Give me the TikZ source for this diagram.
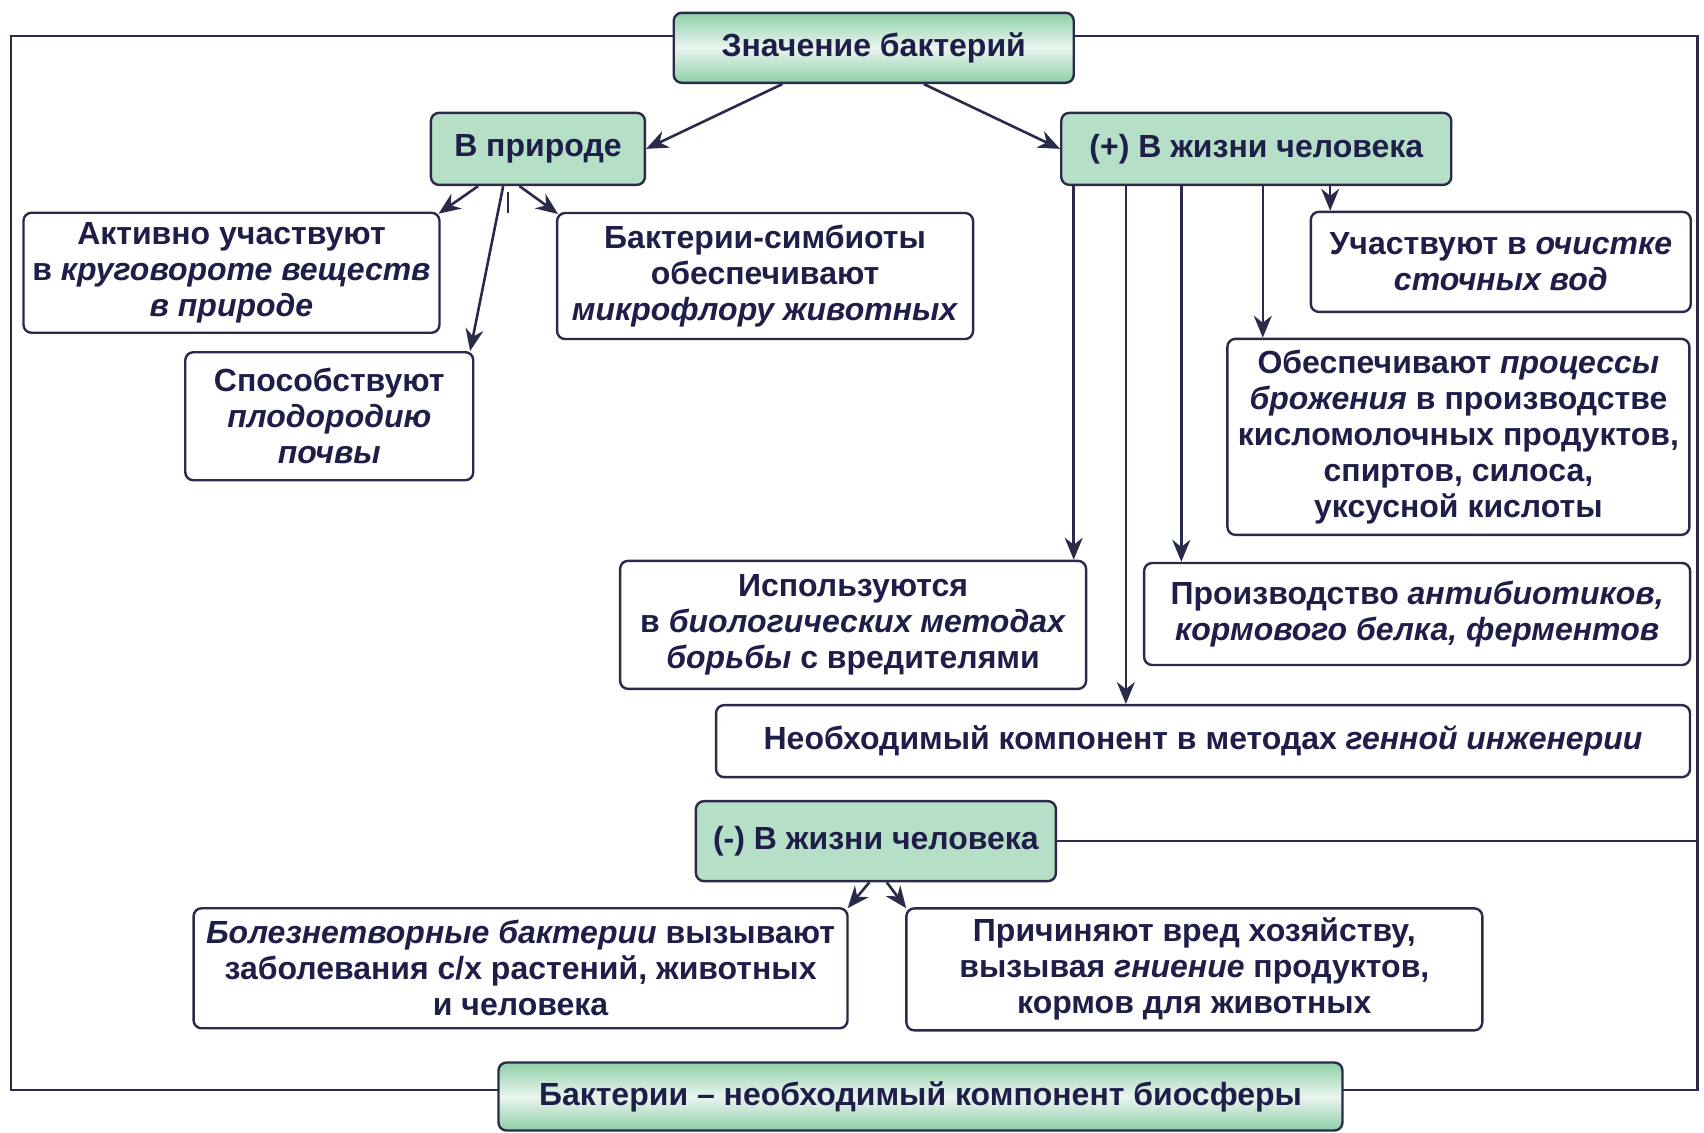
\documentclass[tikz,border=0pt]{standalone}
\usepackage{fontspec}
\setmainfont{Liberation Sans}
\usetikzlibrary{arrows.meta,calc,positioning}
\definecolor{bactInk}{HTML}{1E1E48}
\definecolor{bactLine}{HTML}{2A2A4A}
\definecolor{bactGreen}{HTML}{B6DFC8}
\definecolor{bactDeep}{HTML}{8ECFA8}

\begin{document}
\begin{tikzpicture}[x=0.5434pt,y=-0.5434pt,
  card/.style={draw=bactLine, line width=1.2pt, rounded corners=4pt, fill=white,
    text=bactInk, font=\bfseries\fontsize{16}{18}\selectfont, align=center,
    inner sep=2pt},
  head/.style={card, fill=bactGreen},
  title/.style={card, top color=bactDeep, bottom color=bactDeep,
    middle color=bactGreen!30},
  arr/.style={draw=bactLine, line width=1.3pt, -{Stealth[length=11pt,width=9pt]}},
  frame/.style={draw=bactLine, line width=1.3pt}]
  \useasboundingbox (0,0) rectangle (1568,1042);

  % outer frame
  \coordinate (rimTL) at (10,33);
  \coordinate (rimBR) at (1562,1003);
  \draw[frame] (rimTL) rectangle (rimBR);

  \node[title, minimum width=200pt, minimum height=35pt] (top) at (804,44)
    {Значение бактерий};

  \node[head, minimum width=107pt, minimum height=36pt] (nat) at (495,137)
    {В природе};
  \node[head, minimum width=195pt, minimum height=36pt] (plus) at (1156,137)
    {(+) В жизни человека};

  \node[card, minimum width=208pt, minimum height=60pt] (cycle) at (213,251)
    {Активно участвуют\\в \textit{круговороте веществ}\\\textit{в природе}};
  \node[card, minimum width=144pt, minimum height=64pt] (soil) at (303,383)
    {Способствуют\\\textit{плодородию}\\\textit{почвы}};
  \node[card, minimum width=208pt, minimum height=63pt] (symb) at (704,254)
    {Бактерии-симбиоты\\обеспечивают\\\textit{микрофлору животных}};

  \node[card, minimum width=190pt, minimum height=50pt] (water) at (1381,241)
    {Участвуют в \textit{очистке}\\\textit{сточных вод}};
  \node[card, minimum width=231pt, minimum height=98pt] (ferm) at (1342,402)
    {Обеспечивают \textit{процессы}\\\textit{брожения} в производстве\\кисломолочных продуктов,\\спиртов, силоса,\\уксусной кислоты};
  \node[card, minimum width=233pt, minimum height=64pt] (pest) at (785,575)
    {Используются\\в \textit{биологических методах}\\\textit{борьбы} с вредителями};
  \node[card, minimum width=273pt, minimum height=51pt] (prod) at (1304,565)
    {Производство \textit{антибиотиков,}\\\textit{кормового белка, ферментов}};
  \node[card, minimum width=487pt, minimum height=36pt] (gene) at (1107,682)
    {Необходимый компонент в методах \textit{генной инженерии}};

  \node[head, minimum width=180pt, minimum height=40pt] (minus) at (806,774)
    {(-) В жизни человека};
  \node[card, minimum width=327pt, minimum height=60pt] (ill) at (479,891)
    {\textit{Болезнетворные бактерии} вызывают\\заболевания с/х растений, животных\\и человека};
  \node[card, minimum width=288pt, minimum height=61pt] (harm) at (1099,892)
    {Причиняют вред хозяйству,\\вызывая \textit{гниение} продуктов,\\кормов для животных};

  \node[title, minimum width=422pt, minimum height=34pt] (bio) at (847,1009)
    {Бактерии – необходимый компонент биосферы};

  \draw[frame] (minus.east) -- (minus.east -| rimBR);

  % arrows
  \draw[arr] ($(top.south)+(-84,0)$) -- (nat.east);
  \draw[arr] ($(top.south)+(46,0)$) -- (plus.west);

  \draw[arr] ($(nat.south)+(-55,0)$) -- ($(cycle.north east)+(-2,2)$);
  \draw[arr] ($(nat.south)+(-32,0)$) -- ($(soil.north east)+(-4,0)$);
  \draw[arr] ($(nat.south)+(-17,0)$) -- ($(symb.north west)+(2,2)$);
  \draw[bactLine, line width=1pt] ($(nat.south)+(-28,5)$) -- ++(0,20);

  \foreach \dx/\dst in {-168/pest, -120/gene, -69/prod, 6/ferm, 68/water}
    \draw[arr] ($(plus.south)+(\dx,0)$) coordinate (p) -- (p |- \dst.north);

  \draw[arr] ($(minus.south)+(-6,0)$) -- ($(ill.north east)+(-1,1)$);
  \draw[arr] ($(minus.south)+(10,0)$) -- ($(harm.north west)+(1,1)$);
\end{tikzpicture}
\end{document}
